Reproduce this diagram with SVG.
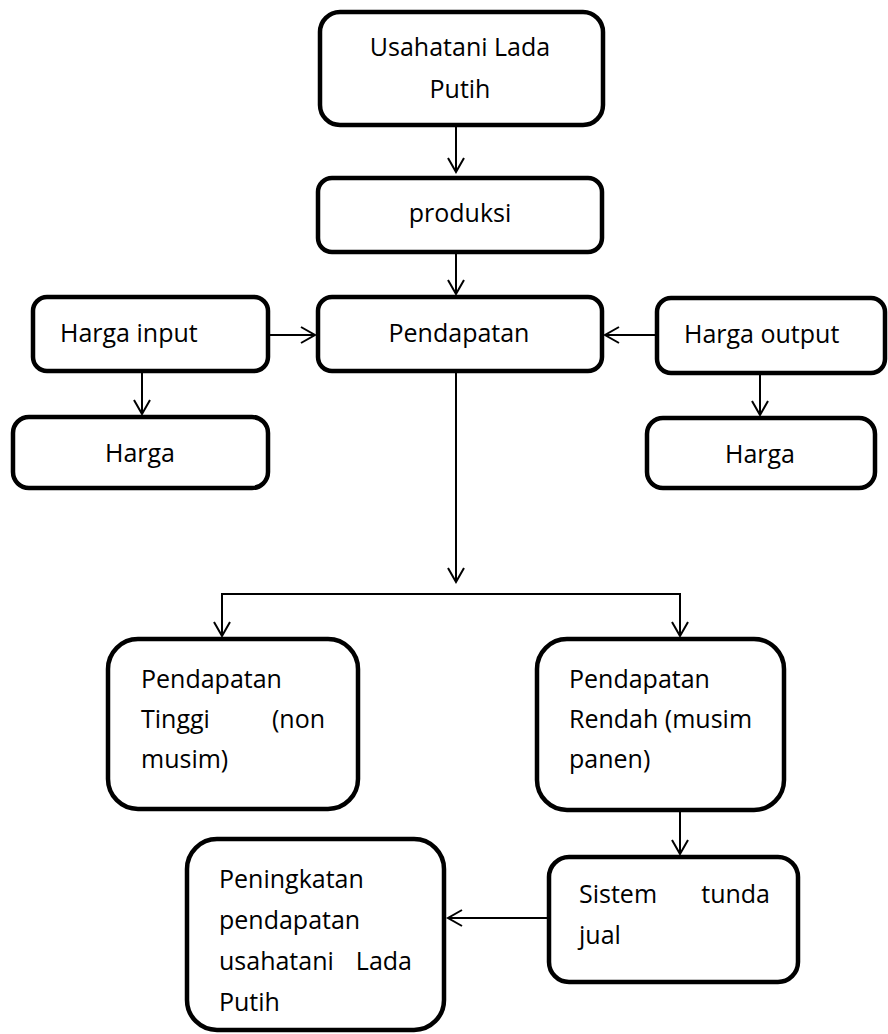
<svg xmlns="http://www.w3.org/2000/svg" width="888" height="1034" viewBox="0 0 888 1034">
<style>
.box{fill:#fff;stroke:#000;stroke-width:4.5}
.t{font-family:"Open Sans","Liberation Sans",sans-serif;font-size:25px;fill:#000}
.c{text-anchor:middle}
.e{text-anchor:end}
.conn{fill:none;stroke:#000;stroke-width:2}
</style>
<defs>
<marker id="arr" markerUnits="userSpaceOnUse" markerWidth="20" markerHeight="20" viewBox="-16 -10 18 20" refX="0" refY="0" orient="auto">
<path d="M-14,-8 L0,0 L-14,8" fill="none" stroke="#000" stroke-width="2"/>
</marker>
</defs>
<rect width="888" height="1034" fill="#fff"/>
<g id="connectors">
<line class="conn" x1="456" y1="126" x2="456" y2="172" marker-end="url(#arr)"/>
<line class="conn" x1="456" y1="253" x2="456" y2="294" marker-end="url(#arr)"/>
<line class="conn" x1="268" y1="335" x2="315" y2="335" marker-end="url(#arr)"/>
<line class="conn" x1="657" y1="335" x2="605" y2="335" marker-end="url(#arr)"/>
<line class="conn" x1="142" y1="372" x2="142" y2="414" marker-end="url(#arr)"/>
<line class="conn" x1="760" y1="374" x2="760" y2="415" marker-end="url(#arr)"/>
<line class="conn" x1="456" y1="372" x2="456" y2="582" marker-end="url(#arr)"/>
<line class="conn" x1="221" y1="594" x2="681" y2="594"/>
<line class="conn" x1="222" y1="594" x2="222" y2="636" marker-end="url(#arr)"/>
<line class="conn" x1="680" y1="594" x2="680" y2="636" marker-end="url(#arr)"/>
<line class="conn" x1="680" y1="811" x2="680" y2="854" marker-end="url(#arr)"/>
<line class="conn" x1="549" y1="918" x2="448" y2="918" marker-end="url(#arr)"/>
</g>
<g id="n1"><rect class="box" x="320" y="12" width="283" height="113" rx="20"/>
<text class="t c" x="460" y="56">Usahatani Lada</text><text class="t c" x="460" y="98">Putih</text></g>
<g id="n2"><rect class="box" x="318" y="178" width="284" height="74" rx="14"/>
<text class="t c" x="460" y="222">produksi</text></g>
<g id="n3"><rect class="box" x="318" y="297" width="284" height="74" rx="14"/>
<text class="t c" x="459" y="342">Pendapatan</text></g>
<g id="n4"><rect class="box" x="33" y="297" width="235" height="74" rx="14"/>
<text class="t" x="60" y="342">Harga input</text></g>
<g id="n5"><rect class="box" x="657" y="298" width="228" height="75" rx="14"/>
<text class="t" x="684" y="343">Harga output</text></g>
<g id="n6"><rect class="box" x="13" y="417" width="255" height="71" rx="16"/>
<text class="t c" x="140" y="462">Harga</text></g>
<g id="n7"><rect class="box" x="647" y="418" width="228" height="70" rx="16"/>
<text class="t c" x="760" y="463">Harga</text></g>
<g id="n8"><rect class="box" x="108" y="639" width="250" height="170" rx="30"/>
<text class="t" x="141" y="688">Pendapatan</text>
<text class="t" x="141" y="728">Tinggi</text><text class="t e" x="325" y="728">(non</text>
<text class="t" x="141" y="768">musim)</text></g>
<g id="n9"><rect class="box" x="537" y="639" width="247" height="171" rx="30"/>
<text class="t" x="569" y="688">Pendapatan</text>
<text class="t" x="569" y="728">Rendah (musim</text>
<text class="t" x="569" y="768">panen)</text></g>
<g id="n10"><rect class="box" x="549" y="857" width="249" height="125" rx="20"/>
<text class="t" x="579" y="903">Sistem</text><text class="t e" x="770" y="903">tunda</text>
<text class="t" x="579" y="944">jual</text></g>
<g id="n11"><rect class="box" x="187" y="839" width="257" height="191" rx="30"/>
<text class="t" x="219" y="888">Peningkatan</text>
<text class="t" x="219" y="929">pendapatan</text>
<text class="t" x="219" y="970">usahatani</text><text class="t e" x="412" y="970">Lada</text>
<text class="t" x="219" y="1011">Putih</text></g>
</svg>
